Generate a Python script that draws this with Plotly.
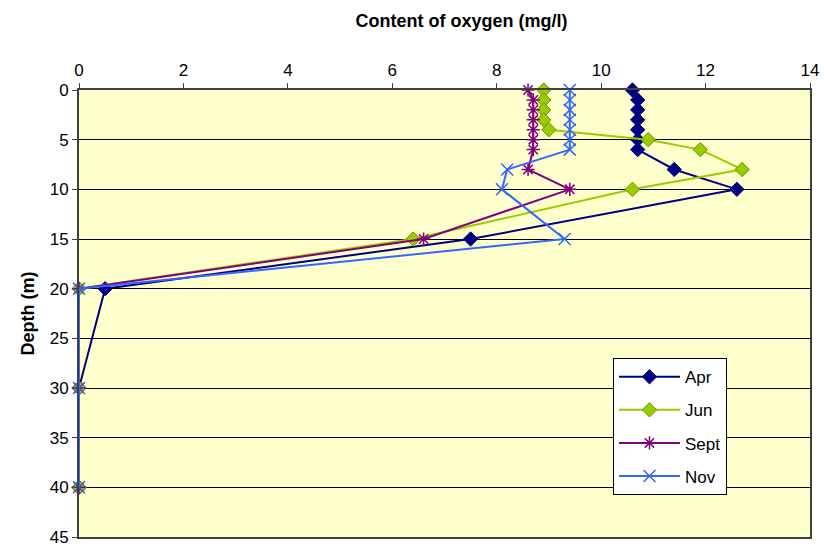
import plotly.graph_objects as go

depth = [0, 1, 2, 3, 4, 5, 6, 8, 10, 15, 20, 30, 40]

apr = [10.6, 10.7, 10.7, 10.7, 10.7, 10.7, 10.7, 11.4, 12.6, 7.5, 0.5, 0, 0]
jun = [8.9, 8.9, 8.9, 8.9, 9.0, 10.9, 11.9, 12.7, 10.6, 6.4, 0, 0, 0]
sept = [8.6, 8.7, 8.7, 8.7, 8.7, 8.7, 8.7, 8.6, 9.4, 6.6, 0, 0, 0]
nov = [9.4, 9.4, 9.4, 9.4, 9.4, 9.4, 9.4, 8.2, 8.1, 9.3, 0, 0, 0]

x_ticks = [0, 2, 4, 6, 8, 10, 12, 14]
y_ticks = [0, 5, 10, 15, 20, 25, 30, 35, 40, 45]

series = [
    ("Apr", apr, "#000080", dict(symbol="diamond", size=11, color="#000080",
                                 line=dict(color="#000080", width=1))),
    ("Jun", jun, "#99CC00", dict(symbol="diamond", size=11, color="#99CC00",
                                 line=dict(color="#6B8E00", width=1))),
    ("Sept", sept, "#800080", dict(symbol="asterisk-open", size=11,
                                   line=dict(color="#800080", width=1.5))),
    ("Nov", nov, "#3366FF", dict(symbol="x-thin-open", size=12,
                                 line=dict(color="#3366FF", width=1.5))),
]

fig = go.Figure()

for name, vals, color, marker in series:
    fig.add_trace(go.Scatter(
        x=vals, y=depth,
        mode="lines+markers",
        name=name,
        legendgroup=name,
        line=dict(color=color, width=2),
        marker=marker,
        cliponaxis=False,
    ))

fig.update_layout(
    width=824, height=547,
    margin=dict(l=79, r=14, t=90, b=10),
    paper_bgcolor="white",
    plot_bgcolor="#FFFFCC",
    font=dict(family="Liberation Sans, Arial, sans-serif", size=17, color="black"),
    title=dict(
        text="<b>Content of oxygen (mg/l)</b>",
        x=0.56, xanchor="center", y=0.963, yanchor="middle",
        font=dict(size=18),
    ),
    showlegend=True,
    legend=dict(
        x=0.7305, y=0.4, xanchor="left", yanchor="top",
        bgcolor="white", bordercolor="black", borderwidth=1,
        font=dict(size=17), tracegroupgap=8,
        itemwidth=61,
    ),
    xaxis=dict(
        side="top", range=[0, 14], tickvals=x_ticks,
        showgrid=False, zeroline=False, automargin=False,
        ticklabeloverflow="allow",
        showline=True, linecolor="#404040", linewidth=2, mirror=True,
        ticks="outside", ticklen=5, tickcolor="#404040",
    ),
    yaxis=dict(
        range=[45, 0], tickvals=y_ticks, automargin=False,
        ticklabeloverflow="allow",
        title=dict(text="<b>Depth (m)</b>", font=dict(size=18), standoff=10),
        showgrid=True, gridcolor="black", gridwidth=1,
        zeroline=False,
        showline=True, linecolor="#404040", linewidth=2, mirror=True,
        ticks="outside", ticklen=5, tickcolor="#404040",
    ),
)

fig.write_html(
    "out.html",
    config={"displayModeBar": False},
    post_script="document.body.style.margin='0px';",
)
